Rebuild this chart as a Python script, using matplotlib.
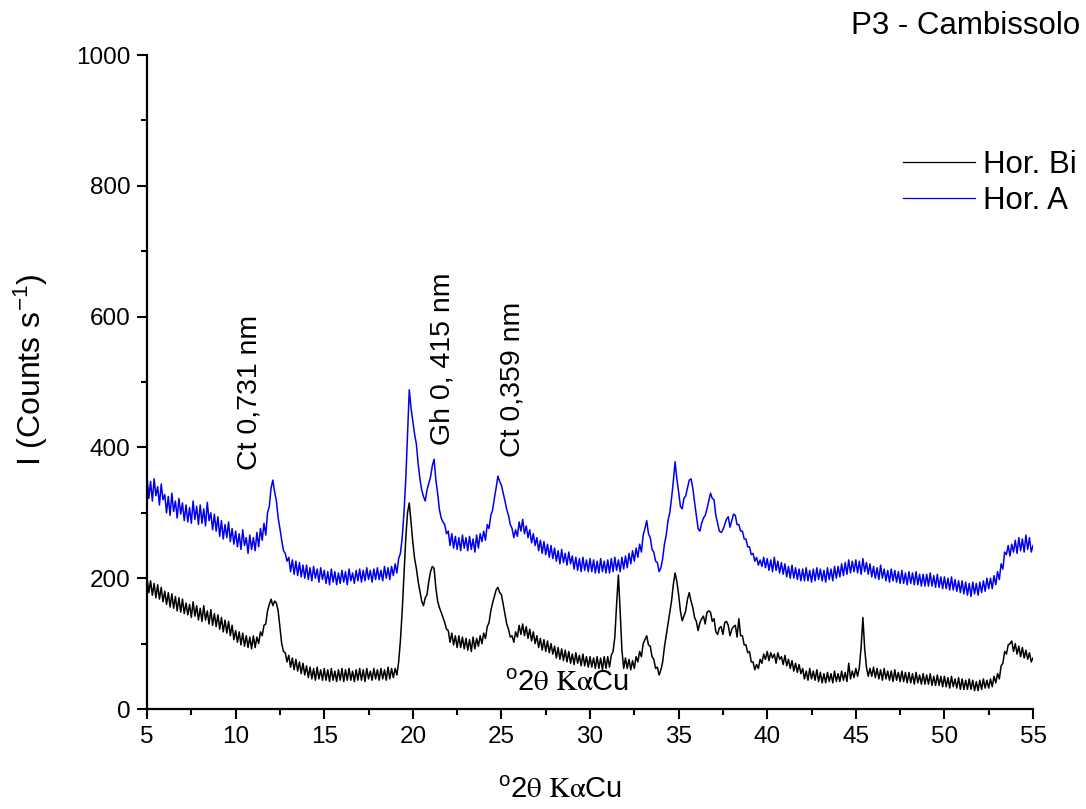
import numpy as np
import matplotlib
matplotlib.use("Agg")
import matplotlib.pyplot as plt
from matplotlib.ticker import MultipleLocator

plt.rcParams["font.family"] = ["Liberation Sans", "DejaVu Sans"]
plt.rcParams["mathtext.fontset"] = "stix"

# 2-theta scan positions (degrees, step 0.1)
two_theta = np.round(np.arange(5.0, 55.001, 0.1), 1)

# Hor. A (blue), one row per degree (x.0 .. x.9)
hor_a = [
    355, 322, 348, 318, 352, 326, 340, 312, 344, 320,
    328, 300, 325, 296, 330, 302, 318, 292, 322, 298,
    315, 288, 312, 286, 308, 284, 318, 290, 310, 282,
    312, 284, 306, 280, 316, 288, 300, 274, 298, 272,
    294, 264, 288, 260, 282, 262, 286, 256, 276, 252,
    272, 248, 268, 244, 274, 250, 262, 238, 266, 244,
    262, 242, 270, 248, 276, 258, 284, 266, 300, 310,
    338, 350, 332, 318, 292, 276, 258, 242, 238, 226,
    232, 210, 228, 206, 226, 204, 224, 202, 220, 200,
    220, 198, 216, 196, 218, 200, 214, 194, 216, 198,
    212, 192, 210, 190, 214, 194, 210, 190, 208, 192,
    212, 194, 210, 190, 214, 196, 208, 192, 212, 196,
    214, 194, 212, 196, 216, 198, 212, 194, 214, 198,
    216, 198, 212, 196, 218, 200, 216, 198, 218, 204,
    222, 208, 230, 238, 262, 300, 350, 420, 488, 460,
    440, 420, 405, 375, 352, 335, 325, 318, 335, 345,
    355, 372, 382, 350, 330, 305, 292, 286, 282, 268,
    272, 250, 268, 246, 264, 244, 262, 242, 266, 246,
    262, 242, 264, 244, 260, 240, 266, 246, 268, 256,
    272, 258, 282, 276, 296, 304, 322, 338, 356, 348,
    342, 330, 318, 305, 296, 282, 276, 262, 274, 264,
    286, 272, 290, 268, 280, 262, 274, 254, 268, 250,
    262, 242, 258, 238, 256, 236, 252, 232, 250, 230,
    246, 226, 242, 222, 244, 224, 238, 220, 240, 222,
    234, 214, 232, 212, 230, 210, 232, 212, 228, 210,
    230, 210, 228, 208, 226, 208, 230, 210, 226, 208,
    228, 208, 230, 210, 232, 212, 228, 210, 232, 214,
    234, 216, 238, 222, 242, 226, 246, 232, 252, 240,
    266, 276, 288, 268, 262, 244, 240, 226, 224, 210,
    216, 230, 252, 266, 288, 300, 322, 348, 378, 352,
    332, 310, 306, 322, 326, 338, 350, 352, 338, 316,
    296, 276, 272, 284, 292, 296, 306, 318, 330, 322,
    320, 296, 284, 272, 270, 274, 282, 290, 294, 278,
    288, 298, 296, 282, 282, 272, 272, 260, 260, 248,
    248, 236, 238, 226, 232, 220, 228, 218, 232, 216,
    230, 212, 228, 210, 232, 212, 226, 208, 224, 206,
    222, 202, 218, 200, 220, 200, 216, 198, 214, 196,
    214, 196, 216, 196, 212, 194, 214, 196, 216, 198,
    214, 196, 212, 194, 216, 198, 214, 196, 218, 200,
    218, 202, 222, 204, 224, 206, 228, 208, 226, 210,
    228, 208, 226, 206, 230, 210, 224, 206, 222, 202,
    218, 200, 216, 198, 220, 200, 214, 196, 212, 194,
    214, 196, 212, 194, 210, 192, 212, 192, 208, 190,
    210, 192, 208, 190, 210, 190, 206, 188, 206, 188,
    206, 188, 208, 188, 204, 186, 206, 186, 202, 184,
    202, 184, 200, 182, 202, 182, 198, 180, 196, 178,
    196, 176, 194, 174, 192, 172, 194, 176, 192, 174,
    194, 178, 196, 180, 200, 184, 200, 184, 204, 190,
    210, 198, 222, 214, 240, 236, 250, 234, 252, 240,
    258, 238, 262, 242, 260, 240, 266, 244, 262, 240,
    250,
]

# Hor. Bi (black)
hor_bi = [
    200, 178, 196, 174, 192, 170, 190, 168, 186, 164,
    180, 160, 178, 156, 176, 154, 172, 150, 170, 148,
    168, 146, 162, 144, 160, 140, 164, 142, 158, 136,
    154, 134, 158, 136, 150, 130, 152, 128, 146, 126,
    144, 122, 140, 118, 136, 116, 134, 112, 128, 106,
    120, 102, 118, 98, 116, 96, 112, 94, 110, 92,
    112, 94, 110, 100, 118, 112, 128, 130, 150, 160,
    168, 158, 165, 162, 150, 125, 100, 88, 86, 72,
    82, 64, 78, 60, 76, 58, 72, 54, 70, 52,
    66, 48, 64, 46, 62, 44, 64, 46, 60, 44,
    62, 44, 60, 42, 62, 44, 58, 42, 60, 44,
    62, 42, 60, 44, 62, 44, 58, 42, 60, 44,
    62, 44, 60, 42, 62, 46, 58, 44, 62, 46,
    60, 44, 62, 46, 60, 44, 64, 46, 62, 48,
    62, 52, 72, 105, 150, 205, 260, 300, 315, 285,
    255, 230, 215, 195, 180, 165, 158, 170, 175, 195,
    210, 218, 215, 185, 165, 155, 148, 140, 132, 122,
    120, 102, 116, 98, 112, 94, 112, 94, 110, 92,
    108, 90, 106, 88, 110, 92, 108, 96, 112, 100,
    116, 108, 126, 132, 150, 162, 172, 182, 186, 178,
    175, 160, 145, 130, 122, 110, 112, 102, 118, 110,
    128, 114, 130, 112, 126, 108, 122, 104, 118, 100,
    112, 94, 108, 90, 106, 88, 104, 86, 100, 84,
    96, 78, 94, 76, 92, 74, 90, 72, 88, 70,
    84, 68, 86, 70, 82, 66, 84, 66, 80, 64,
    80, 64, 78, 62, 80, 62, 78, 60, 80, 62,
    80, 64, 82, 88, 110, 160, 205, 150, 90, 62,
    78, 62, 76, 60, 74, 62, 80, 72, 88, 80,
    100, 106, 112, 98, 96, 80, 76, 62, 64, 52,
    60, 72, 95, 112, 130, 148, 165, 190, 208, 195,
    175, 150, 135, 142, 150, 168, 178, 165, 155, 140,
    134, 120, 132, 138, 142, 130, 148, 150, 148, 134,
    138, 118, 114, 124, 126, 114, 132, 134, 128, 112,
    122, 126, 128, 110, 138, 112, 112, 98, 98, 86,
    88, 72, 72, 60, 68, 62, 76, 70, 84, 76,
    88, 74, 86, 78, 84, 70, 86, 76, 80, 68,
    82, 66, 76, 62, 74, 58, 70, 56, 68, 54,
    62, 46, 58, 44, 62, 46, 58, 44, 60, 42,
    56, 40, 54, 40, 56, 42, 54, 40, 58, 42,
    54, 42, 58, 44, 56, 42, 70, 46, 58, 48,
    62, 50, 64, 95, 140, 92, 64, 50, 62, 50,
    64, 48, 62, 46, 60, 44, 62, 46, 58, 44,
    58, 42, 60, 44, 56, 42, 58, 42, 56, 40,
    56, 40, 54, 38, 56, 40, 52, 38, 54, 38,
    52, 38, 54, 36, 50, 36, 52, 36, 50, 34,
    50, 34, 48, 32, 50, 34, 46, 32, 48, 30,
    46, 30, 44, 30, 46, 30, 44, 28, 42, 28,
    44, 30, 46, 32, 44, 32, 46, 34, 50, 40,
    54, 46, 66, 70, 88, 84, 98, 100, 104, 88,
    100, 84, 96, 80, 94, 78, 90, 76, 86, 72,
    78,
]

# peak labels: text, x position, bottom of text (counts)
peak_labels = ["Ct 0,731 nm", "Gh 0, 415 nm", "Ct 0,359 nm"]
peak_x = [10.8, 21.7, 25.6]
peak_y = [365, 404, 385]

xlab = r"$\mathregular{^o}$2$\mathrm{θ\ Kα}$Cu"

fig = plt.figure(figsize=(10.86, 8.09), dpi=100)
ax = fig.add_axes([0.1354, 0.1236, 0.8158, 0.8084])

ax.plot(two_theta, hor_bi, color="black", lw=1.1, label="Hor. Bi")
ax.plot(two_theta, hor_a, color="#0000ee", lw=1.1, label="Hor. A")

ax.set_xlim(5, 55)
ax.set_ylim(0, 1000)
ax.xaxis.set_major_locator(MultipleLocator(5))
ax.xaxis.set_minor_locator(MultipleLocator(2.5))
ax.yaxis.set_major_locator(MultipleLocator(200))
ax.yaxis.set_minor_locator(MultipleLocator(100))

for s in ["top", "right"]:
    ax.spines[s].set_visible(False)
for s in ["left", "bottom"]:
    ax.spines[s].set_linewidth(1.6)

ax.tick_params(which="major", direction="out", length=7, width=1.5, labelsize=17.5, pad=5)
ax.tick_params(which="minor", direction="out", length=4, width=1.5)

ax.set_ylabel(r"I (Counts s$\mathregular{^{-1}}$)", fontsize=23)
ax.yaxis.set_label_coords(-0.109, 0.518)
ax.set_xlabel(xlab, fontsize=21)
ax.xaxis.set_label_coords(0.466, -0.103)

for lab, xx, yy in zip(peak_labels, peak_x, peak_y):
    ax.text(xx, yy, lab, rotation=90, ha="center", va="bottom", fontsize=20.5)

ax.text(28.7, 40, xlab, ha="center", va="center", fontsize=21)

fig.text(0.995, 0.968, "P3 - Cambissolo", ha="right", va="center", fontsize=22.5)

leg = ax.legend(loc="upper right", bbox_to_anchor=(1.003, 0.83), bbox_transform=fig.transFigure,
                frameon=False, fontsize=22.5, handlelength=2.3, handletextpad=0.25,
                labelspacing=0.2, borderaxespad=0)
for h in leg.get_lines():
    h.set_linewidth(0.9)

fig.savefig("out.png", dpi=100)
